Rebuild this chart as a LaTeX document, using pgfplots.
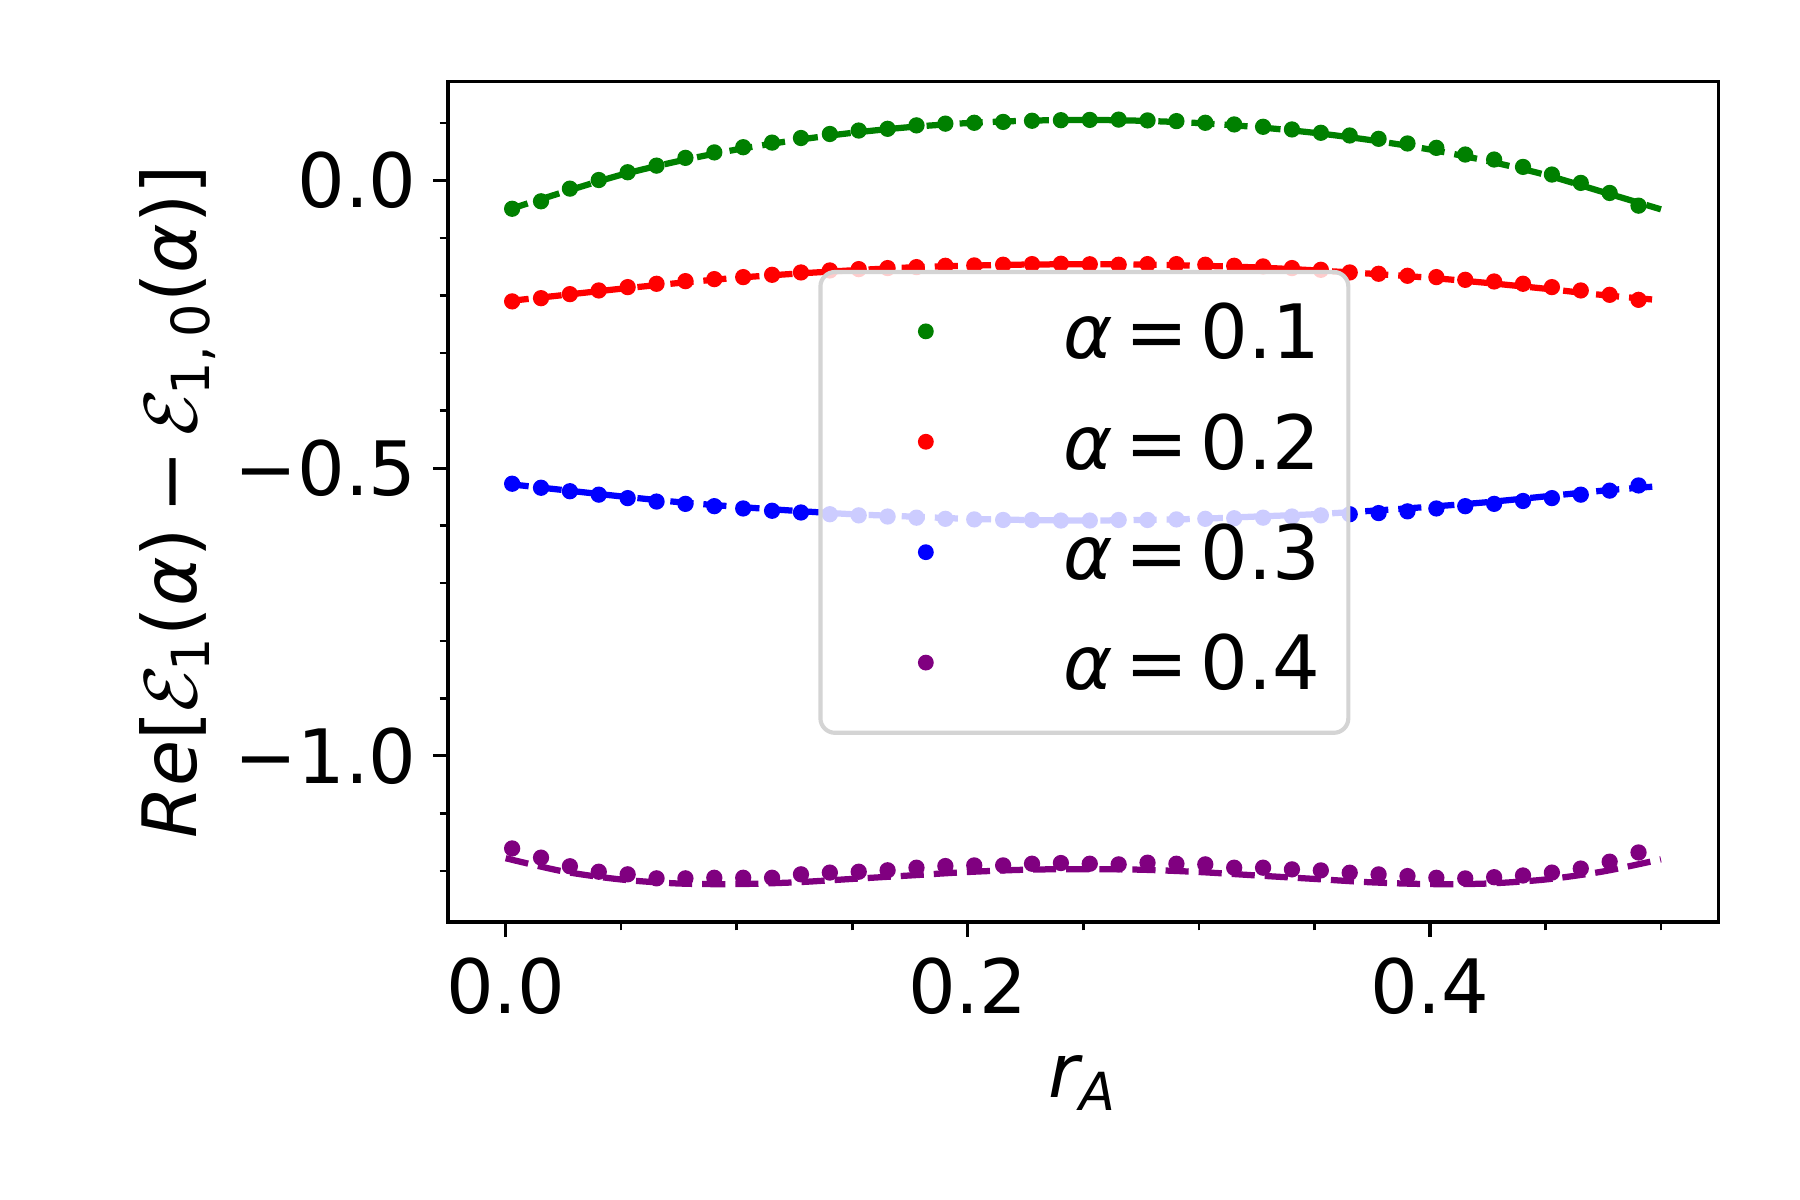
\RequirePackage{fix-cm}
\documentclass[border=0pt]{standalone}
\usepackage{amsmath}
\usepackage{fontspec}
\setmainfont{DejaVu Sans}
\usepackage{pgfplots}
\pgfplotsset{compat=1.18}
\usepackage{pgfplotstable}

\definecolor{mplgreen}{rgb}{0,0.5,0}
\definecolor{mplpurple}{rgb}{0.5,0,0.5}
\newcommand{\fs}{\fontsize{18}{21.6}\selectfont}
\newcommand{\entry}[1]{\makebox[68.3pt][l]{\textit{α}\hspace{0.17em}=\hspace{0.16em}#1}}

% numerical points (dots)
\pgfplotstableread{
x      g       r       b      p
0.0028 -0.0490 -0.2100 -0.527 -1.1610
0.0153 -0.0360 -0.2044 -0.534 -1.1770
0.0278 -0.0140 -0.1974 -0.540 -1.1920
0.0403  0.0010 -0.1910 -0.546 -1.2015
0.0528  0.0145 -0.1852 -0.552 -1.2060
0.0653  0.0260 -0.1794 -0.558 -1.2130
0.0778  0.0395 -0.1748 -0.562 -1.2130
0.0903  0.0490 -0.1713 -0.566 -1.2120
0.1028  0.0580 -0.1678 -0.570 -1.2120
0.1153  0.0660 -0.1638 -0.574 -1.2120
0.1278  0.0740 -0.1597 -0.577 -1.2060
0.1403  0.0810 -0.1562 -0.580 -1.2030
0.1528  0.0870 -0.1539 -0.582 -1.2015
0.1653  0.0900 -0.1521 -0.584 -1.1990
0.1778  0.0960 -0.1504 -0.586 -1.1945
0.1903  0.0990 -0.1481 -0.588 -1.1916
0.2028  0.1005 -0.1475 -0.589 -1.1905
0.2153  0.1020 -0.1463 -0.590 -1.1905
0.2278  0.1040 -0.1452 -0.590 -1.1876
0.2403  0.1050 -0.1446 -0.591 -1.1864
0.2528  0.1055 -0.1455 -0.591 -1.1876
0.2653  0.1060 -0.1463 -0.590 -1.1887
0.2778  0.1046 -0.1452 -0.590 -1.1858
0.2903  0.1034 -0.1452 -0.589 -1.1876
0.3028  0.1005 -0.1463 -0.588 -1.1887
0.3153  0.0976 -0.1481 -0.587 -1.1945
0.3278  0.0935 -0.1492 -0.586 -1.1945
0.3403  0.0889 -0.1521 -0.584 -1.1974
0.3528  0.0831 -0.1551 -0.582 -1.1992
0.3653  0.0784 -0.1597 -0.580 -1.2032
0.3778  0.0726 -0.1620 -0.578 -1.2061
0.3903  0.0645 -0.1655 -0.575 -1.2090
0.4028  0.0569 -0.1678 -0.570 -1.2120
0.4153  0.0453 -0.1725 -0.566 -1.2131
0.4278  0.0366 -0.1754 -0.562 -1.2110
0.4403  0.0238 -0.1794 -0.557 -1.2080
0.4528  0.0105 -0.1852 -0.552 -1.2030
0.4653 -0.0040 -0.1910 -0.546 -1.1960
0.4778 -0.0215 -0.1986 -0.539 -1.1840
0.4903 -0.0436 -0.2073 -0.530 -1.1680
}\dots

% theory curves (dashed)
\pgfplotstableread{
x     g       r       b      p
0.000 -0.0520 -0.2100 -0.527 -1.178
0.025 -0.0200 -0.1990 -0.538 -1.201
0.050  0.0100 -0.1880 -0.549 -1.215
0.075  0.0340 -0.1780 -0.559 -1.222
0.100  0.0540 -0.1690 -0.567 -1.223
0.125  0.0700 -0.1620 -0.574 -1.220
0.150  0.0830 -0.1560 -0.580 -1.214
0.175  0.0930 -0.1510 -0.584 -1.208
0.200  0.1000 -0.1480 -0.588 -1.202
0.225  0.1040 -0.1460 -0.590 -1.198
0.250  0.1055 -0.1455 -0.591 -1.197
0.275  0.1040 -0.1460 -0.590 -1.198
0.300  0.1000 -0.1480 -0.588 -1.202
0.325  0.0930 -0.1510 -0.584 -1.208
0.350  0.0830 -0.1560 -0.580 -1.214
0.375  0.0700 -0.1620 -0.574 -1.220
0.400  0.0540 -0.1690 -0.567 -1.223
0.425  0.0340 -0.1780 -0.559 -1.222
0.450  0.0100 -0.1880 -0.549 -1.215
0.475 -0.0200 -0.1990 -0.539 -1.201
0.500 -0.0500 -0.2080 -0.531 -1.180
}\curves

\begin{document}
\begin{tikzpicture}
\path[use as bounding box] (-107.5pt,-66.7pt) rectangle (324.5pt,221.3pt);
\begin{axis}[
    at={(0pt,0pt)}, anchor=south west,
    scale only axis, width=305pt, height=201.7pt,
    xmin=-0.025, xmax=0.525, ymin=-1.289, ymax=0.172,
    axis line style={line width=0.8pt},
    tick align=outside, tick pos=left,
    major tick length=3.5pt, minor tick length=2pt,
    tick style={black},
    major tick style={line width=0.8pt},
    minor tick style={line width=0.6pt},
    xtick={0,0.2,0.4}, xticklabels={0.0,0.2,0.4},
    minor xtick={0.05,0.1,0.15,0.25,0.3,0.35,0.45,0.5},
    ytick={-1,-0.5,0}, yticklabels={−1.0,−0.5,0.0},
    minor ytick={-1.2,-1.1,-0.9,-0.8,-0.7,-0.6,-0.4,-0.3,-0.2,-0.1,0.1},
    tick label style={font=\fs, inner sep=0pt},
    xticklabel style={yshift=-5pt},
    yticklabel style={xshift=-3.8pt},
    every axis x label/.style={at={(axis description cs:0.5,0)}, anchor=center, yshift=-38.6pt, font=\fs},
    every axis y label/.style={at={(axis description cs:0,0.5)}, xshift=-64.8pt, rotate=90, anchor=center, font=\fs},
    xlabel={$\textit{r}_{\textit{A}}$},
    ylabel={\textit{Re}[$\mathcal{E}_{\text{1}}$(\textit{α})\hspace{0.2em}−\hspace{0.2em}$\mathcal{E}_{\text{1,\hspace{0.15em}0}}$(\textit{α})]},
    legend style={
        at={(axis description cs:0.2915,0.776)}, anchor=north west,
        draw=black!17, line width=1pt, rounded corners=3.5pt,
        fill=white, fill opacity=0.8, draw opacity=1, text opacity=1,
        inner xsep=0pt, inner ysep=2.3pt,
        font=\fs, row sep=0pt, column sep=0pt,
        nodes={inner sep=0pt, text height=18.5pt, text depth=8pt},
    },
    legend cell align=left,
    legend image code/.code={
        \path[draw=none, fill=none] (0pt,-6pt) rectangle (58.4pt,6pt);
        \fill[#1, draw=none, fill opacity=1] (25.3pt,1.3pt) circle (1.9pt);
    },
]
% dashed curves
\addplot[mplgreen, line width=1.5pt, dash pattern=on 5.55pt off 2.4pt, smooth, forget plot] table[x=x, y=g] {\curves};
\addplot[red, line width=1.5pt, dash pattern=on 5.55pt off 2.4pt, smooth, forget plot] table[x=x, y=r] {\curves};
\addplot[blue, line width=1.5pt, dash pattern=on 5.55pt off 2.4pt, smooth, forget plot] table[x=x, y=b] {\curves};
\addplot[mplpurple, line width=1.5pt, dash pattern=on 5.55pt off 2.4pt, smooth, forget plot] table[x=x, y=p] {\curves};
% dots
\addplot[mplgreen, only marks, mark=*, mark size=1.75pt, mark options={draw=none}] table[x=x, y=g] {\dots};
\addlegendentry{\entry{0.1}}
\addplot[red, only marks, mark=*, mark size=1.75pt, mark options={draw=none}] table[x=x, y=r] {\dots};
\addlegendentry{\entry{0.2}}
\addplot[blue, only marks, mark=*, mark size=1.75pt, mark options={draw=none}] table[x=x, y=b] {\dots};
\addlegendentry{\entry{0.3}}
\addplot[mplpurple, only marks, mark=*, mark size=1.75pt, mark options={draw=none}] table[x=x, y=p] {\dots};
\addlegendentry{\entry{0.4}}
\end{axis}
\end{tikzpicture}
\end{document}
